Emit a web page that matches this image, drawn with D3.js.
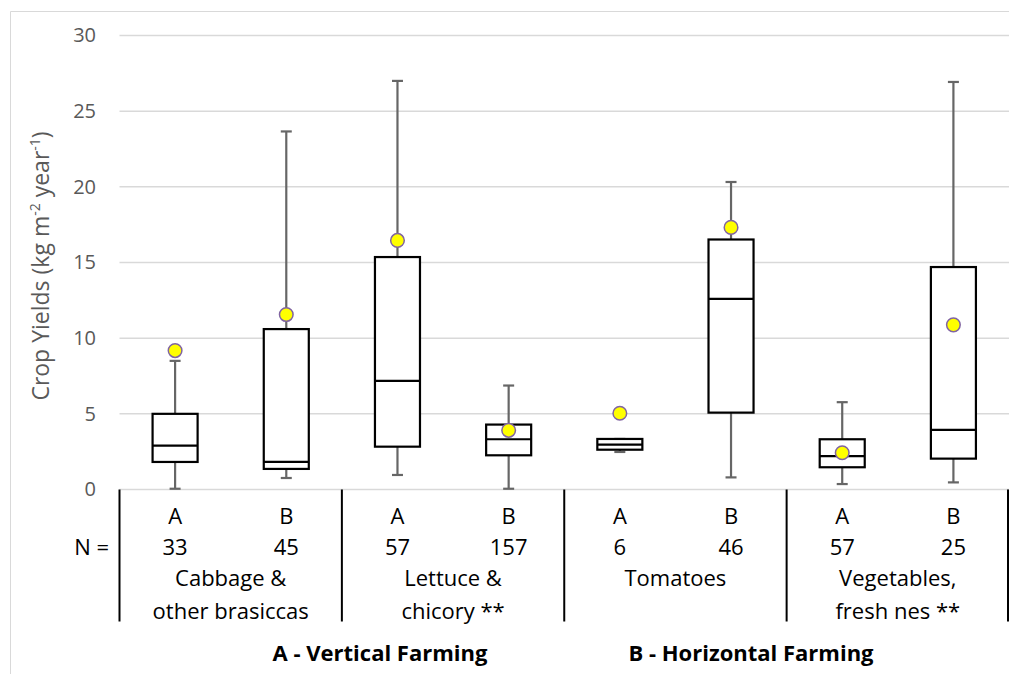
<!DOCTYPE html>
<html>
<head>
<meta charset="utf-8">
<script src="https://cdn.jsdelivr.net/npm/d3@7"></script>
<style>
  html, body { margin: 0; padding: 0; background: #fff; }
  svg { display: block; }
  text { font-family: "Open Sans", sans-serif; }
</style>
</head>
<body>
<svg id="chart" width="1009" height="674"></svg>
<script>
// ---- data ----
const categories = ["Cabbage", "Lettuce", "Tomatoes", "Vegetables"];
const categoryLines = [
  ["Cabbage &", "other brasiccas"],
  ["Lettuce &", "chicory **"],
  ["Tomatoes"],
  ["Vegetables,", "fresh nes **"]
];
const systems = ["A", "B"];
const nCounts = [33, 45, 57, 157, 6, 46, 57, 25];
const whiskerLow  = [0.05, 0.76, 0.96, 0.05, 2.48, 0.80, 0.36, 0.47];
const quartile1   = [1.82, 1.36, 2.83, 2.26, 2.63, 5.08, 1.47, 2.04];
const medians     = [2.90, 1.82, 7.18, 3.32, 2.96, 12.60, 2.20, 3.94];
const quartile3   = [5.00, 10.60, 15.36, 4.29, 3.34, 16.52, 3.32, 14.70];
const whiskerHigh = [8.50, 23.66, 27.00, 6.87, 3.34, 20.32, 5.77, 26.93];
const means       = [9.18, 11.56, 16.46, 3.91, 5.04, 17.32, 2.43, 10.88];
const yTicks = [0, 5, 10, 15, 20, 25, 30];
const systemTitles = ["A - Vertical Farming", "B - Horizontal Farming"];

// ---- layout ----
const svg = d3.select("#chart");
const plotLeft = 119.5, plotRight = 1009, plotTop = 35.5, plotBottom = 489.5;

// outer chart border (cropped)
svg.append("path")
  .attr("d", "M10.5,674 L10.5,11.5 L1009,11.5")
  .attr("fill", "none").attr("stroke", "#d9d9d9").attr("stroke-width", 1);

const y = d3.scaleLinear().domain([0, 30]).range([plotBottom, plotTop]);
const xCat = d3.scaleBand().domain(categories).range([plotLeft, plotRight]);
const xSys = d3.scaleBand().domain(systems).range([0, xCat.bandwidth()]);

// gridlines
svg.append("g").selectAll("line").data(yTicks).join("line")
  .attr("x1", plotLeft).attr("x2", plotRight)
  .attr("y1", d => y(d)).attr("y2", d => y(d))
  .attr("stroke", "#d9d9d9").attr("stroke-width", 1.5);

// y axis labels
const yAxis = d3.axisLeft(y).tickValues(yTicks).tickSize(0).tickPadding(0).tickFormat(d3.format("d"));
const yg = svg.append("g").attr("transform", `translate(96,0)`).call(yAxis);
yg.select(".domain").remove();
yg.selectAll("text").attr("font-size", 20).attr("fill", "#595959")
  .attr("font-family", "'Open Sans', sans-serif");

// y axis title
svg.append("text")
  .attr("transform", "translate(49,266) rotate(-90)")
  .attr("text-anchor", "middle")
  .attr("font-size", 23).attr("fill", "#595959")
  .call(t => {
    t.append("tspan").text("Crop Yields (kg m");
    t.append("tspan").attr("font-size", 14).attr("dy", -9).text("-2");
    t.append("tspan").attr("dy", 9).text(" year");
    t.append("tspan").attr("font-size", 14).attr("dy", -9).text("-1");
    t.append("tspan").attr("dy", 9).text(")");
  });

// box data
const boxes = [];
categories.forEach((c, ci) => systems.forEach((s, si) => {
  const i = ci * 2 + si;
  boxes.push({
    cx: xCat(c) + xSys(s) + xSys.bandwidth() / 2,
    lo: whiskerLow[i], q1: quartile1[i], med: medians[i], q3: quartile3[i],
    hi: whiskerHigh[i], mean: means[i], n: nCounts[i], sys: s
  });
}));
const boxW = xSys.bandwidth() * 0.405;
const capW = 11;

const bg = svg.append("g");
bg.selectAll(".wh").data(boxes).join("g").each(function(d) {
  const g = d3.select(this);
  const stroke = "#666666";
  g.append("line").attr("x1", d.cx).attr("x2", d.cx).attr("y1", y(d.q3)).attr("y2", y(d.hi))
    .attr("stroke", stroke).attr("stroke-width", 2.2);
  g.append("line").attr("x1", d.cx).attr("x2", d.cx).attr("y1", y(d.q1)).attr("y2", y(d.lo))
    .attr("stroke", stroke).attr("stroke-width", 2.2);
  g.append("line").attr("x1", d.cx - capW / 2).attr("x2", d.cx + capW / 2).attr("y1", y(d.hi)).attr("y2", y(d.hi))
    .attr("stroke", stroke).attr("stroke-width", 2.2);
  g.append("line").attr("x1", d.cx - capW / 2).attr("x2", d.cx + capW / 2).attr("y1", y(d.lo)).attr("y2", y(d.lo))
    .attr("stroke", stroke).attr("stroke-width", 2.2);
  g.append("rect").attr("x", d.cx - boxW / 2).attr("width", boxW)
    .attr("y", y(d.q3)).attr("height", y(d.q1) - y(d.q3))
    .attr("fill", "#fff").attr("stroke", "#000").attr("stroke-width", 2.2);
  g.append("line").attr("x1", d.cx - boxW / 2).attr("x2", d.cx + boxW / 2)
    .attr("y1", y(d.med)).attr("y2", y(d.med))
    .attr("stroke", "#000").attr("stroke-width", 2.2);
});
bg.selectAll(".mean").data(boxes).join("circle")
  .attr("cx", d => d.cx).attr("cy", d => y(d.mean)).attr("r", 6.8)
  .attr("fill", "#ffff00").attr("stroke", "#8064a2").attr("stroke-width", 1.5);

// table below axis
const tableBottom = 621.5;
const tg = svg.append("g");
d3.range(categories.length + 1).forEach(k => {
  const xv = k < categories.length ? xCat(categories[k]) : plotRight - 1;
  tg.append("line").attr("x1", xv).attr("x2", xv).attr("y1", plotBottom).attr("y2", tableBottom)
    .attr("stroke", "#000").attr("stroke-width", 2);
});

const fs = 22;
tg.selectAll(".sys").data(boxes).join("text")
  .attr("x", d => d.cx).attr("y", 524).attr("text-anchor", "middle")
  .attr("font-size", fs).attr("fill", "#000").text(d => d.sys);
tg.selectAll(".n").data(boxes).join("text")
  .attr("x", d => d.cx).attr("y", 555).attr("text-anchor", "middle")
  .attr("font-size", fs).attr("fill", "#000").text(d => d.n);
tg.append("text").attr("x", 109).attr("y", 555).attr("text-anchor", "end")
  .attr("font-size", fs).attr("fill", "#000").text("N =");
categories.forEach((c, ci) => {
  categoryLines[ci].forEach((line, li) => {
    tg.append("text").attr("x", xCat(c) + xCat.bandwidth() / 2).attr("y", 586 + li * 33)
      .attr("text-anchor", "middle").attr("font-size", fs).attr("fill", "#000").text(line);
  });
});
const titleX = [380, 751];
systemTitles.forEach((t, i) => {
  tg.append("text").attr("x", titleX[i]).attr("y", 661).attr("text-anchor", "middle")
    .attr("font-size", 22).attr("font-weight", "bold").attr("fill", "#000").text(t);
});
</script>
</body>
</html>
